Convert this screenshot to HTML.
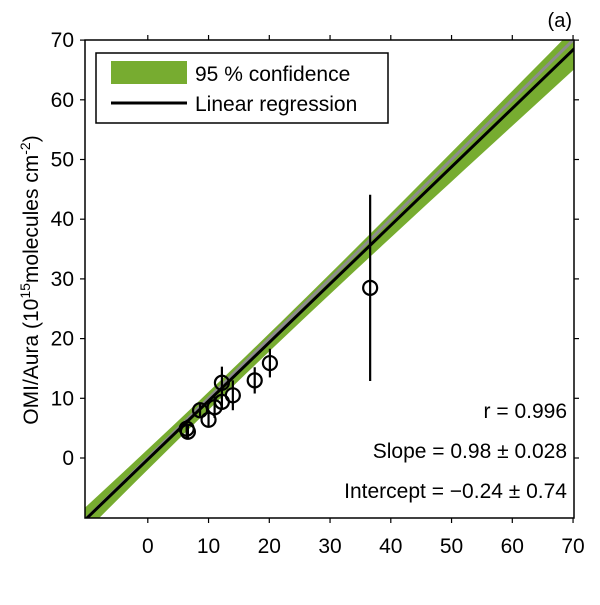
<!DOCTYPE html>
<html><head><meta charset="utf-8"><style>
body{margin:0;background:#fff}
svg{font-family:"Liberation Sans",Arial,sans-serif}
</style></head><body>
<svg id="c" width="600" height="600" viewBox="0 0 600 600">
<defs><clipPath id="clip"><rect x="85" y="40" width="489" height="478"/></clipPath></defs>
<g id="band" clip-path="url(#clip)"></g>
<g id="lines" clip-path="url(#clip)"></g>
<g id="pts"></g>
<rect x="85" y="40" width="489" height="478" fill="none" stroke="#000" stroke-width="1.5"/>
<g id="axes"></g>
<g>
<rect x="96" y="53" width="292" height="70" fill="#fff" stroke="#000" stroke-width="1.5"/>
<rect x="111" y="61" width="76" height="23" fill="#77ac30"/>
<text x="195" y="81" font-size="21">95 % confidence</text>
<line x1="111" y1="103" x2="187" y2="103" stroke="#000" stroke-width="3"/>
<text x="195" y="111" font-size="21">Linear regression</text>
</g>
<text x="567" y="418" font-size="21" text-anchor="end">r = 0.996</text>
<text x="567" y="458" font-size="21" text-anchor="end">Slope = 0.98 ± 0.028</text>
<text x="567" y="498" font-size="21" text-anchor="end">Intercept = −0.24 ± 0.74</text>
<text x="572" y="27" font-size="20" text-anchor="end">(a)</text>
<text transform="translate(38,280) rotate(-90)" font-size="21" text-anchor="middle">OMI/Aura (10<tspan dy="-8" font-size="14">15</tspan><tspan dy="8">molecules cm</tspan><tspan dy="-8" font-size="14">-2</tspan><tspan dy="8">)</tspan></text>
</svg>
<script>
const xs=[6.4,6.6,8.6,10,11,12.2,12.2,14,17.6,20.1,36.6];
const ys=[4.9,4.4,8,6.4,8.5,9.4,12.6,10.5,13,15.9,28.5];
const errs=[1.5,1.2,1.0,1.3,1.8,1.2,2.7,2.5,2.2,2.4,15.6];
const ticks=[0,10,20,30,40,50,60,70];
const slope=0.98, intercept=-0.24;
const X=v=>147.8+v*6.075, Y=v=>458-v*5.97;
const NS='http://www.w3.org/2000/svg';
function mk(p,t,a){const e=document.createElementNS(NS,t);for(const k in a)e.setAttribute(k,a[k]);document.getElementById(p).appendChild(e);return e;}
let up=[],lo=[];
for(let x=-12;x<=72;x+=2){const h=2*Math.sqrt(0.74*0.74+Math.pow(0.028*(x-15),2));const m=intercept+slope*x;up.push(X(x)+','+Y(m+h));lo.unshift(X(x)+','+Y(m-h));}
const b=mk('band','polygon',{points:up.concat(lo).join(' '),fill:'#77ac30'});


const g=mk('lines','line',{x1:X(-12),y1:Y(-12),x2:X(72),y2:Y(72),stroke:'#8c8c8c','stroke-width':3});


const r=mk('lines','line',{x1:X(-12),y1:Y(intercept-12*slope),x2:X(72),y2:Y(intercept+72*slope),stroke:'#000','stroke-width':3});


xs.forEach((x,i)=>{
 const e=mk('pts','line',{x1:X(x),x2:X(x),y1:Y(ys[i]-errs[i]),y2:Y(ys[i]+errs[i]),stroke:'#000','stroke-width':2.2});
 
 
 const c=mk('pts','circle',{cx:X(x),cy:Y(ys[i]),r:7,fill:'none',stroke:'#000','stroke-width':2.2});
 
 
});
ticks.forEach(t=>{
 const a=mk('axes','line',{x1:X(t),x2:X(t),y1:518,y2:523,stroke:'#000','stroke-width':1.2});
 
 
 const a2=mk('axes','line',{x1:X(t),x2:X(t),y1:40,y2:35,stroke:'#000','stroke-width':1.2});
 
 
 const tx=mk('axes','text',{x:X(t),y:553,'font-size':21,'text-anchor':'middle'});tx.textContent=t;
 
 
 const b1=mk('axes','line',{x1:85,x2:80,y1:Y(t),y2:Y(t),stroke:'#000','stroke-width':1.2});
 
 
 const b2=mk('axes','line',{x1:574,x2:579,y1:Y(t),y2:Y(t),stroke:'#000','stroke-width':1.2});
 
 
 const ty=mk('axes','text',{x:74,y:Y(t)+7,'font-size':21,'text-anchor':'end'});ty.textContent=t;
 
 
});
</script>
</body></html>
